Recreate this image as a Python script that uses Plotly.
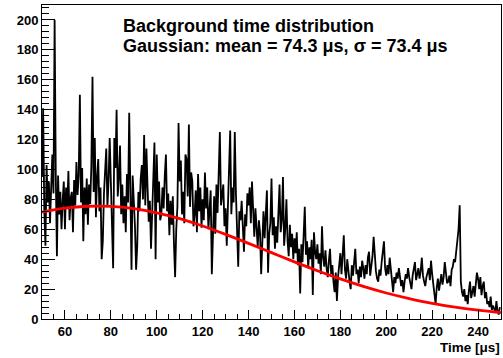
import numpy as np
import plotly.graph_objects as go

# bin start times, 0.5 us bins from 50 to 250
t_start = 50.0
t_step = 0.5

counts = [
    95, 141, 72, 49, 103, 78, 92, 64, 88, 110, 84, 200, 97, 42, 96, 70, 85, 60, 79, 92,
    60, 88, 74, 99, 66, 81, 85, 58, 93, 76, 105, 83, 96, 150, 78, 101, 52, 88, 70, 94,
    63, 90, 77, 102, 162, 85, 121, 68, 95, 107, 72, 88, 40, 52, 84, 99, 114, 75, 92, 121,
    88, 66, 34, 121, 101, 140, 82, 95, 116, 70, 90, 64, 82, 58, 97, 78, 138, 86, 33, 96,
    80, 62, 33, 49, 85, 72, 94, 103, 80, 123, 76, 114, 88, 65, 79, 47, 70, 92, 118, 40,
    110, 78, 92, 66, 70, 88, 74, 96, 110, 72, 84, 56, 79, 63, 82, 50, 28, 60, 75, 131,
    92, 106, 70, 85, 64, 110, 107, 82, 130, 75, 98, 92, 62, 70, 86, 58, 97, 72, 88, 61,
    80, 66, 98, 74, 88, 60, 79, 86, 30, 68, 82, 57, 90, 71, 95, 125, 76, 84, 90, 62,
    74, 49, 80, 96, 126, 70, 88, 78, 125, 84, 60, 35, 72, 66, 79, 58, 45, 70, 62, 84,
    76, 88, 64, 92, 70, 55, 74, 62, 48, 66, 58, 30, 61, 72, 54, 68, 86, 31, 57, 64,
    94, 56, 68, 47, 62, 51, 72, 90, 58, 66, 95, 49, 60, 80, 52, 42, 63, 48, 57, 40,
    54, 44, 58, 36, 47, 17, 50, 38, 56, 75, 43, 52, 34, 48, 40, 53, 16, 58, 45, 40,
    50, 37, 44, 30, 62, 41, 35, 46, 34, 28, 39, 47, 30, 36, 25, 18, 31, 12, 28, 38,
    44, 30, 49, 56, 33, 27, 40, 31, 25, 20, 36, 29, 38, 47, 30, 33, 24, 35, 28, 39,
    34, 27, 36, 30, 41, 45, 29, 35, 42, 55, 38, 32, 27, 25, 33, 29, 38, 45, 52, 34,
    29, 36, 30, 41, 33, 26, 18, 28, 24, 31, 27, 34, 29, 22, 26, 18, 25, 30, 27, 34,
    28, 24, 20, 29, 33, 38, 26, 30, 34, 27, 32, 41, 29, 25, 22, 28, 31, 34, 26, 39,
    30, 22, 17, 10, 21, 27, 19, 25, 30, 23, 28, 38, 31, 24, 25, 29, 22, 33, 35, 40,
    38, 47, 52, 60, 76, 25, 18, 15, 20, 12, 16, 10, 19, 25, 14, 18, 22, 15, 24, 31,
    27, 20, 28, 16, 22, 25, 14, 18, 10, 12, 8, 15, 6, 9, 7, 4, 12, 5, 3, 8,
]
times = t_start + t_step * np.arange(len(counts))

# gaussian fit curve
fit_t = [50, 60, 70, 80, 90, 100, 110, 120, 130, 140, 150,
         160, 170, 180, 190, 200, 210, 220, 230, 240, 250]
fit_y = [71.5, 74.1, 75.4, 75.3, 73.8, 71.0, 67.1, 62.2, 56.6, 50.6, 44.4,
         38.2, 32.3, 26.8, 21.8, 17.4, 13.7, 10.5, 8.0, 5.9, 4.3]

font = "Liberation Sans"

W, H = 503, 358
ML, MR, MT, MB = 42, 2, 5, 39

fig = go.Figure()
fig.add_trace(go.Scatter(x=times, y=counts, mode="lines",
                         line=dict(color="black", width=1.8)))
fig.add_trace(go.Scatter(x=fit_t, y=fit_y, mode="lines",
                         line=dict(color="#ff0000", width=2.8, shape="spline")))

fig.update_layout(
    width=W, height=H,
    margin=dict(l=ML, r=MR, t=MT, b=MB, pad=0),
    paper_bgcolor="white", plot_bgcolor="white",
    showlegend=False,
    font=dict(family=font, size=13, color="black", weight=700),
)
fig.update_xaxes(
    range=[50, 250], dtick=20, tick0=0,
    showgrid=False, zeroline=False,
    showline=True, linecolor="black", linewidth=1, mirror=True,
    ticks="inside", ticklen=9, tickcolor="black",
    minor=dict(dtick=5, tick0=0, ticks="inside", ticklen=5, tickcolor="black"),
    tickfont=dict(family=font, size=13, color="black", weight=700),
)
fig.update_yaxes(
    range=[0, 210], dtick=20, tick0=0,
    showgrid=False, zeroline=False,
    showline=True, linecolor="black", linewidth=1, mirror=True,
    ticks="inside", ticklen=13, tickcolor="black",
    minor=dict(dtick=4, tick0=0, ticks="inside", ticklen=7, tickcolor="black"),
    tickfont=dict(family=font, size=13, color="black", weight=700),
)

# place texts by page pixels
def px_x(px):
    return (px - ML) / (W - ML - MR)

def px_y(py):
    return (H - MB - py) / (H - MB - MT)

fig.add_annotation(
    x=px_x(122), y=px_y(26), xref="paper", yref="paper",
    xanchor="left", yanchor="middle", showarrow=False, borderpad=0,
    text="<b>Background time distribution</b>",
    font=dict(family=font, size=18, color="black"),
)
fig.add_annotation(
    x=px_x(122), y=px_y(46), xref="paper", yref="paper",
    xanchor="left", yanchor="middle", showarrow=False, borderpad=0,
    text="<b>Gaussian: mean = 74.3 μs, σ = 73.4 μs</b>",
    font=dict(family=font, size=18, color="black"),
)
fig.add_annotation(
    x=1, y=px_y(347), xref="paper", yref="paper",
    xanchor="right", yanchor="middle", showarrow=False, borderpad=0,
    text="<b>Time [μs]</b>",
    font=dict(family=font, size=13.5, color="black"),
)

fig.write_html("out.html", config={"displayModeBar": False},
               post_script="document.body.style.margin='0';")
